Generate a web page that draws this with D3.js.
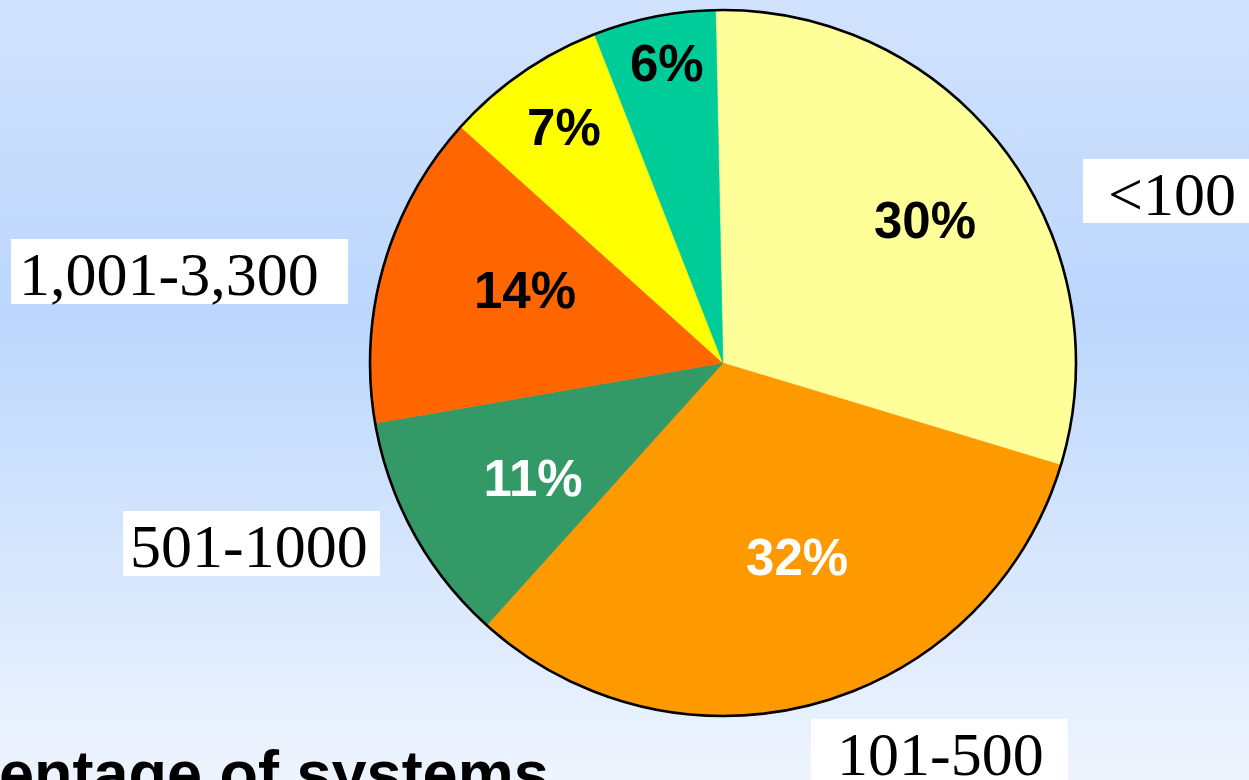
<!DOCTYPE html>
<html>
<head>
<meta charset="utf-8">
<script src="https://cdn.jsdelivr.net/npm/d3@7"></script>
<style>
  html, body { margin: 0; padding: 0; overflow: hidden; }
  svg { display: block; }
</style>
</head>
<body>
<svg id="chart" width="1249" height="780"></svg>
<script>
// ---- data ----
const categories = ["<100", "101-500", "501-1000", "1,001-3,300", "3,301-10,000", ">10,000"];
const values = [30.0, 32.0, 10.6, 14.4, 7.4, 5.6];
const colors = ["#FFFF99", "#FF9900", "#339966", "#FF6600", "#FFFF00", "#00CC99"];
const pctTextColors = ["#000", "#fff", "#fff", "#000", "#000", "#000"];
const titleText = "Percentage of systems";

// ---- layout ----
const W = 1249, H = 780;
const cx = 723, cy = 363, R = 353;
const startOffset = -1.2 * Math.PI / 180;
const labelRadius = [0.701, 0.588, 0.628, 0.598, 0.806, 0.867];
const labelAngleShift = [1.9, -5.3, -2.1, 4.2, 0.7, 0.7]; // degrees
// category label boxes (only four categories are labelled in the picture)
const labelBoxes = [
  { i: 0, x: 1083, y: 159, w: 175, h: 64, tx: 1108, ty: 215 },
  { i: 1, x: 811, y: 719, w: 257, h: 70, tx: 837, ty: 775 },
  { i: 2, x: 123, y: 511, w: 257, h: 65, tx: 130, ty: 567 },
  { i: 3, x: 11, y: 239, w: 337, h: 65, tx: 19, ty: 295 }
];

const svg = d3.select("#chart");

const defs = svg.append("defs");
const grad = defs.append("linearGradient").attr("id", "bg")
  .attr("x1", 0).attr("y1", 0).attr("x2", 0).attr("y2", 1);
grad.append("stop").attr("offset", "0%").attr("stop-color", "#d1e2fd");
grad.append("stop").attr("offset", "40%").attr("stop-color", "#bcd7fd");
grad.append("stop").attr("offset", "100%").attr("stop-color", "#eef4fd");

svg.append("rect").attr("width", W).attr("height", H).attr("fill", "url(#bg)");

const pie = d3.pie().sort(null).value(d => d)
  .startAngle(startOffset).endAngle(startOffset + 2 * Math.PI);
const arcs = pie(values);
const arc = d3.arc().innerRadius(0).outerRadius(R);

const g = svg.append("g").attr("transform", `translate(${cx},${cy})`);
g.selectAll("path.slice").data(arcs).join("path")
  .attr("class", "slice")
  .attr("d", arc)
  .attr("fill", (d, i) => colors[i])
  .attr("stroke", (d, i) => colors[i])
  .attr("stroke-width", 0.5);

g.append("circle").attr("r", R).attr("fill", "none")
  .attr("stroke", "#000").attr("stroke-width", 2.6);

const total = d3.sum(values);
g.selectAll("text.pct").data(arcs).join("text")
  .attr("class", "pct")
  .attr("transform", (d, i) => {
    const a = (d.startAngle + d.endAngle) / 2 + labelAngleShift[i] * Math.PI / 180;
    const r = R * labelRadius[i];
    return `translate(${r * Math.sin(a)},${-r * Math.cos(a)})`;
  })
  .attr("text-anchor", "middle")
  .attr("dy", "0.36em")
  .attr("font-family", "'Liberation Sans', Arial, sans-serif")
  .attr("font-weight", "bold")
  .attr("font-size", 51)
  .attr("fill", (d, i) => pctTextColors[i])
  .text(d => Math.round(d.data / total * 100) + "%");

// category labels
const lb = svg.append("g");
labelBoxes.forEach(b => {
  lb.append("rect").attr("x", b.x).attr("y", b.y).attr("width", b.w).attr("height", b.h)
    .attr("fill", "#fff");
  lb.append("text").attr("x", b.tx).attr("y", b.ty)
    .attr("font-family", "'Liberation Serif', 'Times New Roman', serif")
    .attr("font-size", 62)
    .attr("fill", "#000")
    .text(categories[b.i]);
});

// title (partly off-canvas in the picture)
const t = svg.append("text")
  .attr("y", 795)
  .attr("font-family", "'Liberation Sans', Arial, sans-serif")
  .attr("font-weight", "bold")
  .attr("font-size", 63)
  .attr("fill", "#000")
  .text(titleText);
const off = t.node().getSubStringLength(0, 4);
t.attr("x", -off - 1);
</script>
</body>
</html>
